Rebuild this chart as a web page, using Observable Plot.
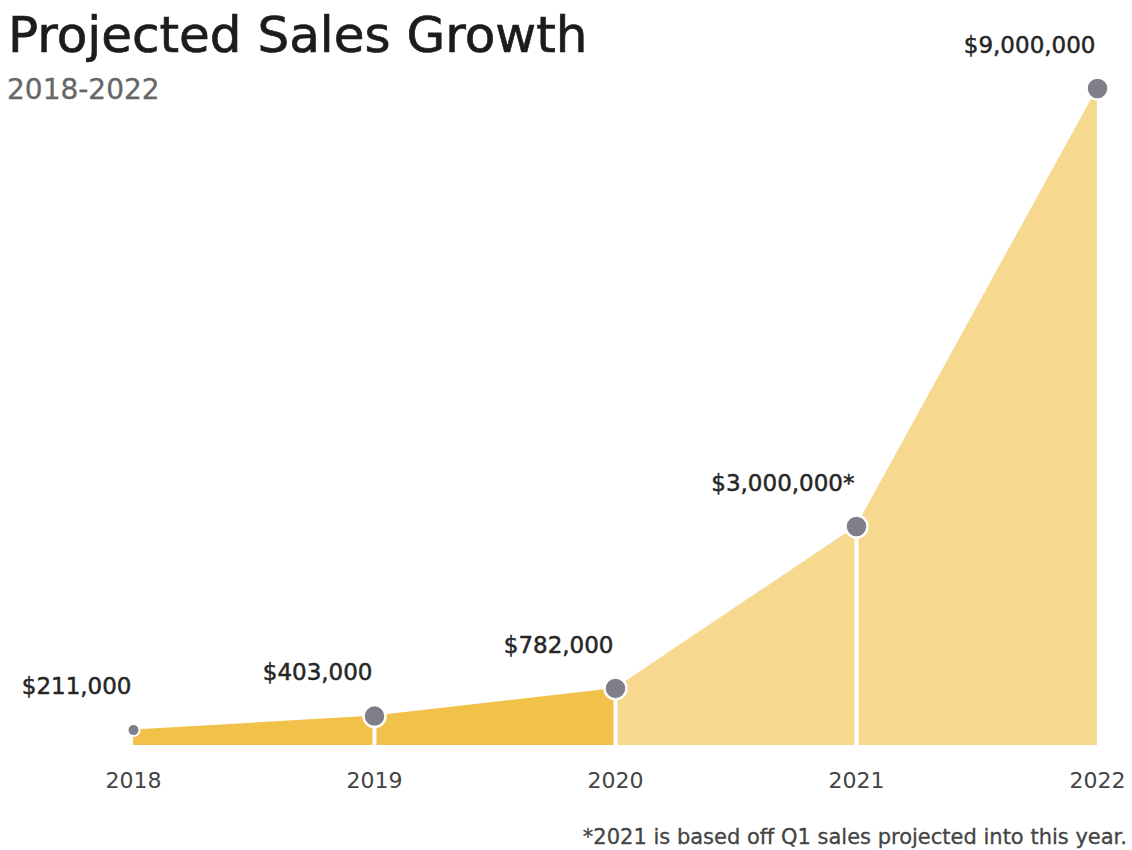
<!DOCTYPE html>
<html><head><meta charset="utf-8">
<script src="https://cdn.jsdelivr.net/npm/d3@7"></script>
<script src="https://cdn.jsdelivr.net/npm/@observablehq/plot@0.6"></script>
<style>
html,body{margin:0;padding:0;background:#fff;overflow:hidden;width:1132px;height:850px;}
#wrap{position:relative;width:1132px;height:850px;font-family:"DejaVu Sans",sans-serif;}
#title{position:absolute;left:8px;top:10px;font-size:50px;line-height:50px;color:#1c1c1c;white-space:nowrap;-webkit-text-stroke:0.7px #1c1c1c;}
#subtitle{position:absolute;left:7px;top:76px;font-size:28px;line-height:28px;color:#666;white-space:nowrap;-webkit-text-stroke:0.3px #666;}
#chart svg{display:block;}
#note{margin-top:22px;font-size:21px;line-height:21px;color:#444;text-align:right;padding-right:5px;white-space:nowrap;-webkit-text-stroke:0.3px #444;}
</style></head><body>
<div id="wrap"><div id="chart"></div><div id="note"></div><div id="title"></div><div id="subtitle"></div></div>
<script>
// ---- data ----
const years = [2018, 2019, 2020, 2021, 2022];
const sales = [211000, 403000, 782000, 3000000, 9000000];
const valueLabels = ["$211,000", "$403,000", "$782,000", "$3,000,000*", "$9,000,000"];
const splitYear = 2020; // before: achieved, after: projected
const titleText = "Projected Sales Growth";
const subtitleText = "2018-2022";
const noteText = "*2021 is based off Q1 sales projected into this year.";

// ---- build tables ----
const pts = years.map((y, i) => ({year: y, value: sales[i], label: valueLabels[i]}));
const rows = [];
for (let i = 0; i < years.length - 1; i++) {
  const seg = years[i] < splitYear ? "early" : "late";
  rows.push({year: years[i], value: sales[i], seg, k: i});
  rows.push({year: years[i + 1], value: sales[i + 1], seg, k: i});
}

const chart = Plot.plot({
  width: 1132,
  height: 805,
  marginTop: 88,
  marginBottom: 60,
  marginLeft: 133,
  marginRight: 35,
  style: {fontFamily: "DejaVu Sans, sans-serif", background: "white", overflow: "visible"},
  x: {domain: [2018, 2022], label: null},
  y: {domain: [0, 9000000], axis: null, label: null},
  marks: [
    Plot.areaY(rows.filter(d => d.seg === "early"), {x: "year", y1: d => 0, y2: "value", z: "k", fill: "#f1c14a"}),
    Plot.areaY(rows.filter(d => d.seg === "late"), {x: "year", y1: d => 0, y2: "value", z: "k", fill: "#f6d98f"}),
    Plot.ruleX(pts.slice(1, -1), {x: "year", y: "value", stroke: "white", strokeWidth: 4}),
    Plot.dot(pts.slice(0, 1), {x: "year", y: "value", r: 6, fill: "#7e7f88", stroke: "white", strokeWidth: 2}),
    Plot.dot(pts.slice(1), {x: "year", y: "value", r: 11, fill: "#7e7f88", stroke: "white", strokeWidth: 2.5}),
    Plot.text(pts, {x: "year", y: "value", text: "label", textAnchor: "end", dx: -2, dy: -43, fontSize: 23, fill: "#262626", stroke: "#262626", strokeWidth: 0.5}),
    Plot.axisX(years, {tickSize: 0, tickPadding: 27, tickFormat: d => String(d), fontSize: 22, color: "#444", label: null})
  ]
});
document.getElementById("chart").appendChild(chart);
document.getElementById("title").textContent = titleText;
document.getElementById("subtitle").textContent = subtitleText;
document.getElementById("note").textContent = noteText;
</script>
</body></html>
